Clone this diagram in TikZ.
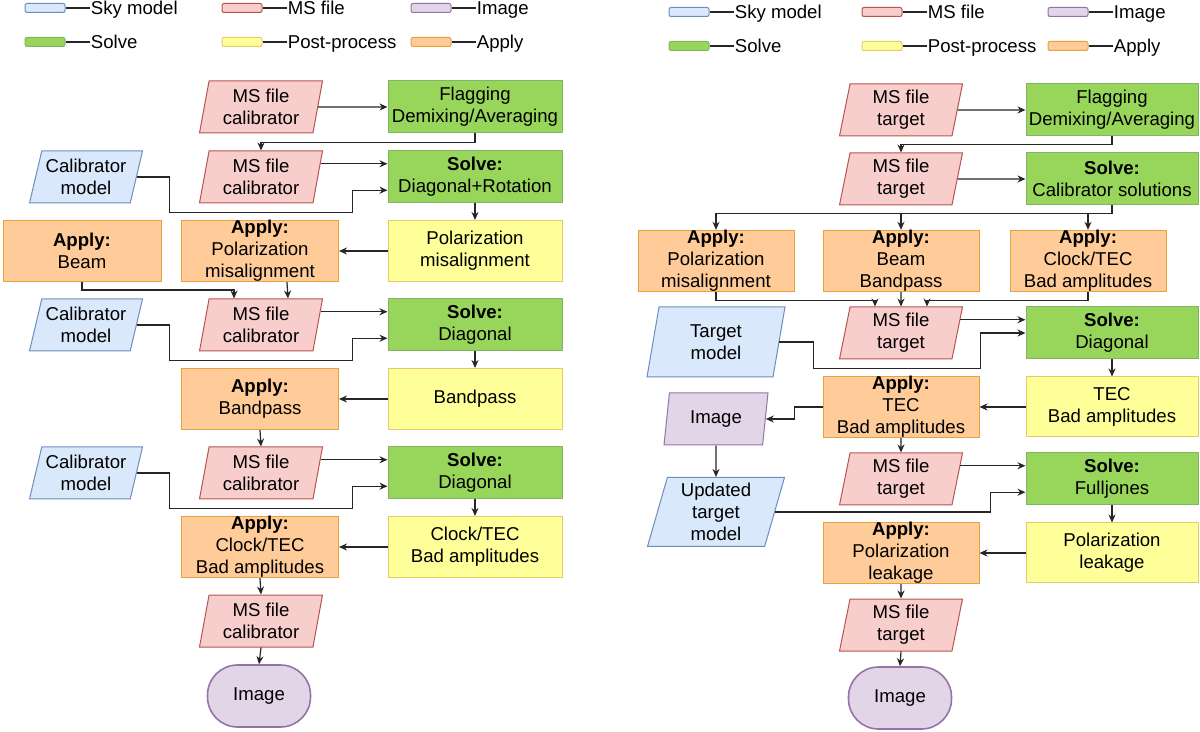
\documentclass[tikz,border=0pt]{standalone}
\usepackage{fontspec}
\setmainfont{Liberation Sans}
\usetikzlibrary{arrows.meta, calc, positioning, shapes.geometric}

\definecolor{skyF}{HTML}{DAE8FC}
\definecolor{skyD}{HTML}{6C8EBF}
\definecolor{msF}{HTML}{F8CECC}
\definecolor{msD}{HTML}{B85450}
\definecolor{imgF}{HTML}{E1D5E7}
\definecolor{imgD}{HTML}{9673A6}
\definecolor{solveF}{HTML}{97D65A}
\definecolor{solveD}{HTML}{82B366}
\definecolor{postF}{HTML}{FFFF99}
\definecolor{postD}{HTML}{E3CC6B}
\definecolor{applyF}{HTML}{FFCC99}
\definecolor{applyD}{HTML}{E6A23C}

\begin{document}
\begin{tikzpicture}[x = 0.5pt, y = -0.5pt, font = \fontsize{9.3}{11}\selectfont,
		every node/.style = {align = center, inner sep = 0pt},
		arr/.style = {-{Stealth[length = 4pt, width = 3.5pt]}, line width = 0.6pt, draw = black!85},
		box/.style = {rectangle, line width = 0.5pt, minimum width = 87pt},
		solve/.style = {box, fill = solveF, draw = solveD, minimum height = 26pt},
		post/.style = {box, fill = postF, draw = postD, minimum height = 30.5pt},
		apply/.style = {box, fill = applyF, draw = applyD, minimum width = 78.5pt, minimum height = 30.5pt},
		data/.style = {trapezium, trapezium left angle = 75, trapezium right angle = 105, trapezium stretches body,
			line width = 0.5pt, minimum height = 26pt, minimum width = 61.5pt},
		ms/.style = {data, fill = msF, draw = msD},
		sky/.style = {data, fill = skyF, draw = skyD, trapezium left angle = 71, trapezium right angle = 109, minimum width = 56.5pt},
		imgdata/.style = {data, fill = imgF, draw = imgD, trapezium left angle = 72, trapezium right angle = 108, minimum width = 52pt},
		img/.style = {rectangle, rounded corners = 15pt, fill = imgF, draw = imgD, line width = 0.8pt,
			minimum width = 51.5pt, minimum height = 31pt},
		legbox/.style = {rectangle, rounded corners = 1pt, fill = #1F, draw = #1D, line width = 0.5pt,
			minimum width = 20pt, minimum height = 4.5pt},
		legtext/.style = {inner sep = 0.5pt, text height = 6.7pt, text depth = 0pt}]
	\useasboundingbox (0,0) rectangle (1200,732);

	\foreach \lc/\lt/\lx/\ly [count = \i] in {sky/Sky model/45/8, ms/MS file/242/8, img/Image/431/8,
		solve/Solve/45/42, post/Post-process/242/42, apply/Apply/431/42,
		sky/Sky model/689/12, ms/MS file/882/12, img/Image/1068/12,
		solve/Solve/689/46, post/Post-process/882/46, apply/Apply/1068/46}
	{
		\node [legbox = \lc] (lb\i) at (\lx,\ly) {};
		\node [legtext, right = 12pt of lb\i] (lt\i) {\lt};
		\draw [line width = 0.6pt, black!85] (lb\i) -- (lt\i);
	}

	\begin{scope}
		\node [ms] (ms1) at (261,107) {MS file\\calibrator};
		\node [solve] (flag) at (475,107) {Flagging\\Demixing/Averaging};
		\node [ms] (ms2) at (261,177) {MS file\\calibrator};
		\node [sky] (cal1) at (86,177) {Calibrator\\model};
		\node [solve] (solve1) at (475,177) {\textbf{Solve:}\\Diagonal+Rotation};
		\node [apply, minimum width = 79pt] (beam) at (82,251) {\textbf{Apply:}\\Beam};
		\node [apply] (apm) at (260,251) {\textbf{Apply:}\\Polarization\\misalignment};
		\node [post] (pm) at (475,251) {Polarization\\misalignment};
		\node [ms] (ms3) at (261,325) {MS file\\calibrator};
		\node [sky] (cal2) at (86,325) {Calibrator\\model};
		\node [solve] (solve2) at (475,325) {\textbf{Solve:}\\Diagonal};
		\node [apply] (abp) at (260,399) {\textbf{Apply:}\\Bandpass};
		\node [post] (bp) at (475,399) {Bandpass};
		\node [ms] (ms4) at (261,473) {MS file\\calibrator};
		\node [sky] (cal3) at (86,473) {Calibrator\\model};
		\node [solve] (solve3) at (475,473) {\textbf{Solve:}\\Diagonal};
		\node [apply] (ack) at (260,547) {\textbf{Apply:}\\Clock/TEC\\Bad amplitudes};
		\node [post] (ck) at (475,547) {Clock/TEC\\Bad amplitudes};
		\node [ms] (ms5) at (261,621) {MS file\\calibrator};
		\node [img] (img1) at (259,696) {Image};
	\end{scope}

	\begin{scope}[arr]
		\draw (ms1.east) -- (flag.west);
		\draw (flag.south) -- ++(0,9) -| (ms2.north);
		\draw ($(ms2.top right corner)!.25!(ms2.bottom right corner)$) -- ($(solve1.north west)!.25!(solve1.south west)$);
		\draw (cal1.east) -- ++(33,0) |- ($(solve1.south west)+(-35,9)$) |- ($(solve1.north west)!.75!(solve1.south west)$);
		\draw (solve1.south) -- (pm.north);
		\draw (pm.west) -- (apm.east);
		\draw (beam.south) -- ++(0,8) -| ($(ms3.north)+(-27,0)$);
		\draw ($(apm.south)+(27,0)$) -- ($(ms3.north)+(27,0)$);
		\draw ($(ms3.top right corner)!.25!(ms3.bottom right corner)$) -- ($(solve2.north west)!.25!(solve2.south west)$);
		\draw (cal2.east) -- ++(33,0) |- ($(solve2.south west)+(-35,9)$) |- ($(solve2.north west)!.75!(solve2.south west)$);
		\draw (solve2.south) -- (bp.north);
		\draw (bp.west) -- (abp.east);
		\draw (abp.south) -- (ms4.north);
		\draw ($(ms4.top right corner)!.25!(ms4.bottom right corner)$) -- ($(solve3.north west)!.25!(solve3.south west)$);
		\draw (cal3.east) -- ++(33,0) |- ($(solve3.south west)+(-35,9)$) |- ($(solve3.north west)!.75!(solve3.south west)$);
		\draw (solve3.south) -- (ck.north);
		\draw (ck.west) -- (ack.east);
		\draw (ack.south) -- (ms5.north);
		\draw (ms5.south) -- (img1.north);
	\end{scope}

	\begin{scope}[solve/.append style = {minimum width = 86pt}, apply/.append style = {minimum width = 78pt, minimum height = 30pt},
			post/.append style = {minimum width = 86pt, minimum height = 30pt}]
		\node [ms] (tms1) at (901,110) {MS file\\target};
		\node [solve] (tflag) at (1112,110) {Flagging\\Demixing/Averaging};
		\node [ms] (tms2) at (901,179) {MS file\\target};
		\node [solve] (scal) at (1112,179) {\textbf{Solve:}\\Calibrator solutions};
		\node [apply] (apol) at (716,261) {\textbf{Apply:}\\Polarization\\misalignment};
		\node [apply] (abeam) at (901,261) {\textbf{Apply:}\\Beam\\Bandpass};
		\node [apply] (aclk) at (1088,261) {\textbf{Apply:}\\Clock/TEC\\Bad amplitudes};
		\node [ms] (tms3) at (901,333) {MS file\\target};
		\node [sky, minimum width = 69pt, minimum height = 35pt] (tmod) at (716,342) {Target\\model};
		\node [solve] (sdiag) at (1112,333) {\textbf{Solve:}\\Diagonal};
		\node [apply] (atec) at (901,407) {\textbf{Apply:}\\TEC\\Bad amplitudes};
		\node [post] (tec) at (1112,407) {TEC\\Bad amplitudes};
		\node [imgdata] (timg) at (716,419) {Image};
		\node [ms] (tms4) at (901,479) {MS file\\target};
		\node [solve] (sfj) at (1112,479) {\textbf{Solve:}\\Fulljones};
		\node [sky, minimum width = 68.5pt, minimum height = 34.5pt] (upd) at (716,512) {Updated\\target\\model};
		\node [apply] (aleak) at (901,553) {\textbf{Apply:}\\Polarization\\leakage};
		\node [post] (leak) at (1112,553) {Polarization\\leakage};
		\node [ms] (tms5) at (901,625) {MS file\\target};
		\node [img] (img2) at (900,698) {Image};
	\end{scope}

	\begin{scope}[arr]
		\draw (tms1.east) -- (tflag.west);
		\draw (tflag.south) -- ++(0,8) -| (tms2.north);
		\draw (tms2.east) -- (scal.west);
		\draw (scal.south) -- ++(0,8) -| (apol.north);
		\draw (scal.south) -- ++(0,8) -| (abeam.north);
		\draw (scal.south) -- ++(0,8) -| (aclk.north);
		\draw (apol.south) -- ++(0,8) -| ($(tms3.north)+(-26,0)$);
		\draw (abeam.south) -- (tms3.north);
		\draw (aclk.south) -- ++(0,8) -| ($(tms3.north)+(26,0)$);
		\draw ($(tms3.top right corner)!.25!(tms3.bottom right corner)$) -- ($(sdiag.north west)!.25!(sdiag.south west)$);
		\draw (tmod.east) -- ++(34,0) |- ($(sdiag.south west)+(-45,9)$) |- (sdiag.west);
		\draw (sdiag.south) -- (tec.north);
		\draw (tec.west) -- (atec.east);
		\draw (atec.west) -- ++(-28,0) |- (timg.east);
		\draw (timg.south) -- (upd.north);
		\draw (atec.south) -- (tms4.north);
		\draw ($(tms4.top right corner)!.25!(tms4.bottom right corner)$) -- ($(sfj.north west)!.25!(sfj.south west)$);
		\draw (upd.east) -| ($(sfj.north west)!.75!(sfj.south west)+(-35,0)$) -- ($(sfj.north west)!.75!(sfj.south west)$);
		\draw (sfj.south) -- (leak.north);
		\draw (leak.west) -- (aleak.east);
		\draw (aleak.south) -- (tms5.north);
		\draw (tms5.south) -- (img2.north);
	\end{scope}
\end{tikzpicture}
\end{document}
